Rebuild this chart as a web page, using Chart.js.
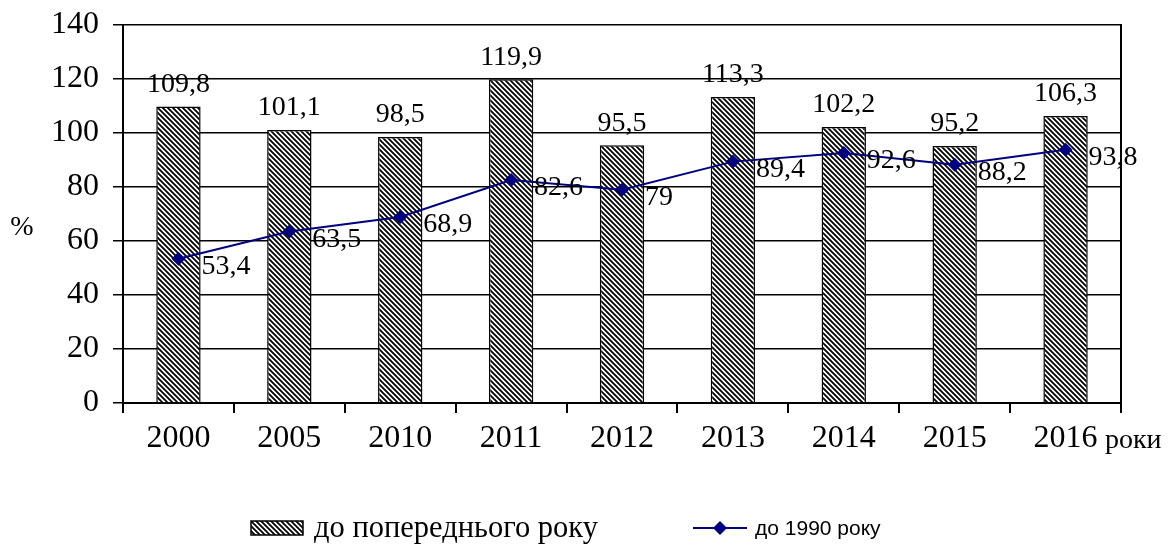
<!DOCTYPE html>
<html>
<head>
<meta charset="utf-8">
<script src="https://cdn.jsdelivr.net/npm/chart.js@4/dist/chart.umd.min.js"></script>
<style>
  html, body { margin: 0; padding: 0; background: #fff; }
  #wrap { width: 1170px; height: 547px; }
</style>
</head>
<body>
<div id="wrap"><canvas id="chart" width="1170" height="547"></canvas></div>
<script>
// Дані
const roky = ['2000', '2005', '2010', '2011', '2012', '2013', '2014', '2015', '2016'];
const doPoperednogo = [109.8, 101.1, 98.5, 119.9, 95.5, 113.3, 102.2, 95.2, 106.3];
const do1990 = [53.4, 63.5, 68.9, 82.6, 79, 89.4, 92.6, 88.2, 93.8];
const yTicks = [0, 20, 40, 60, 80, 100, 120, 140];

const SERIF = '"Liberation Serif", "Times New Roman", serif';
const SANS = '"Liberation Sans", Arial, sans-serif';
const NAVY = '#000080';

// Штрихування для стовпців
function makeHatch() {
  const c = document.createElement('canvas');
  c.width = 5; c.height = 5;
  const g = c.getContext('2d');
  g.fillStyle = '#fff';
  g.fillRect(0, 0, 5, 5);
  g.strokeStyle = '#000';
  g.lineWidth = 1.8;
  g.beginPath();
  g.moveTo(-1, -1); g.lineTo(6, 6);
  g.moveTo(-6, -1); g.lineTo(1, 6);
  g.moveTo(4, -1); g.lineTo(11, 6);
  g.stroke();
  return g.createPattern(c, 'repeat');
}
const hatch = makeHatch();

const fmt = v => String(v).replace('.', ',');

// Підписи значень, легенда та додаткові написи
const labelsPlugin = {
  id: 'labelsPlugin',
  afterDatasetsDraw(chart) {
    const ctx = chart.ctx;
    const barMeta = chart.getDatasetMeta(1);
    const lineMeta = chart.getDatasetMeta(0);
    ctx.save();
    ctx.fillStyle = '#000';
    ctx.font = '28px ' + SERIF;
    ctx.textAlign = 'center';
    ctx.textBaseline = 'bottom';
    barMeta.data.forEach((el, i) => {
      ctx.fillText(fmt(doPoperednogo[i]), el.x, el.y - 8);
    });
    ctx.textAlign = 'left';
    ctx.textBaseline = 'middle';
    lineMeta.data.forEach((el, i) => {
      ctx.fillText(fmt(do1990[i]), el.x + 23, el.y + 8);
    });
    ctx.restore();
  },
  afterDraw(chart) {
    const ctx = chart.ctx;
    ctx.save();
    ctx.fillStyle = '#000';
    // %
    ctx.font = '28px ' + SERIF;
    ctx.textAlign = 'center';
    ctx.textBaseline = 'middle';
    ctx.fillText('%', 22, 228);
    // роки
    ctx.font = '28px ' + SERIF;
    ctx.textAlign = 'left';
    ctx.textBaseline = 'alphabetic';
    ctx.fillText('роки', 1105, 448);
    // легенда
    const ly = 528;
    ctx.fillStyle = hatch;
    ctx.fillRect(251, ly - 7, 52, 14);
    ctx.strokeStyle = '#000';
    ctx.lineWidth = 1.5;
    ctx.strokeRect(251, ly - 7, 52, 14);
    ctx.fillStyle = '#000';
    ctx.font = '30.5px ' + SERIF;
    ctx.textBaseline = 'middle';
    ctx.fillText('до попереднього року', 314, ly + 1);
    ctx.strokeStyle = NAVY;
    ctx.lineWidth = 2;
    ctx.beginPath();
    ctx.moveTo(693, ly); ctx.lineTo(747, ly);
    ctx.stroke();
    ctx.fillStyle = NAVY;
    ctx.beginPath();
    ctx.moveTo(720, ly - 7); ctx.lineTo(727, ly); ctx.lineTo(720, ly + 7); ctx.lineTo(713, ly);
    ctx.closePath();
    ctx.fill();
    ctx.fillStyle = '#000';
    ctx.font = '21px ' + SANS;
    ctx.fillText('до 1990 року', 755, ly + 1);
    ctx.restore();
  }
};

new Chart(document.getElementById('chart'), {
  data: {
    labels: roky,
    datasets: [{
      type: 'line',
      label: 'до 1990 року',
      data: do1990,
      borderColor: NAVY,
      backgroundColor: NAVY,
      borderWidth: 2,
      pointStyle: 'rectRot',
      pointRadius: 7,
      pointBorderWidth: 0,
      tension: 0,
      order: 0
    }, {
      type: 'bar',
      label: 'до попереднього року',
      data: doPoperednogo,
      backgroundColor: hatch,
      borderColor: '#000',
      borderWidth: 1.5,
      categoryPercentage: 0.8,
      barPercentage: 0.5,
      order: 1
    }]
  },
  options: {
    responsive: false,
    animation: false,
    layout: { padding: { top: 25, left: 0, right: 0, bottom: 0 } },
    plugins: {
      legend: { display: false },
      tooltip: { enabled: false }
    },
    scales: {
      x: {
        offset: true,
        grid: {
          offset: true,
          drawOnChartArea: false,
          drawTicks: true,
          tickLength: 10,
          color: '#000',
          lineWidth: 2
        },
        border: { display: true, color: '#000', width: 2 },
        ticks: {
          color: '#000',
          font: { family: SERIF, size: 32 },
          padding: 6,
          maxRotation: 0
        },
        afterFit: s => { s.height = 144; s.paddingLeft = 0; s.paddingRight = 0; }
      },
      y: {
        min: 0,
        max: 140,
        afterBuildTicks: s => { s.ticks = yTicks.map(v => ({ value: v })); },
        grid: {
          color: '#000',
          lineWidth: 1.5,
          drawTicks: true,
          tickLength: 10
        },
        border: { display: true, color: '#000', width: 2 },
        ticks: {
          color: '#000',
          font: { family: SERIF, size: 32 },
          padding: 14
        },
        afterFit: s => { s.width = 123; s.paddingTop = 0; s.paddingBottom = 0; }
      },
      yRight: {
        position: 'right',
        min: 0,
        max: 140,
        grid: { display: false, drawTicks: false },
        ticks: { display: false },
        border: { display: true, color: '#000', width: 2 },
        afterFit: s => { s.width = 49; s.paddingTop = 0; s.paddingBottom = 0; }
      }
    }
  },
  plugins: [labelsPlugin]
});
</script>
</body>
</html>
